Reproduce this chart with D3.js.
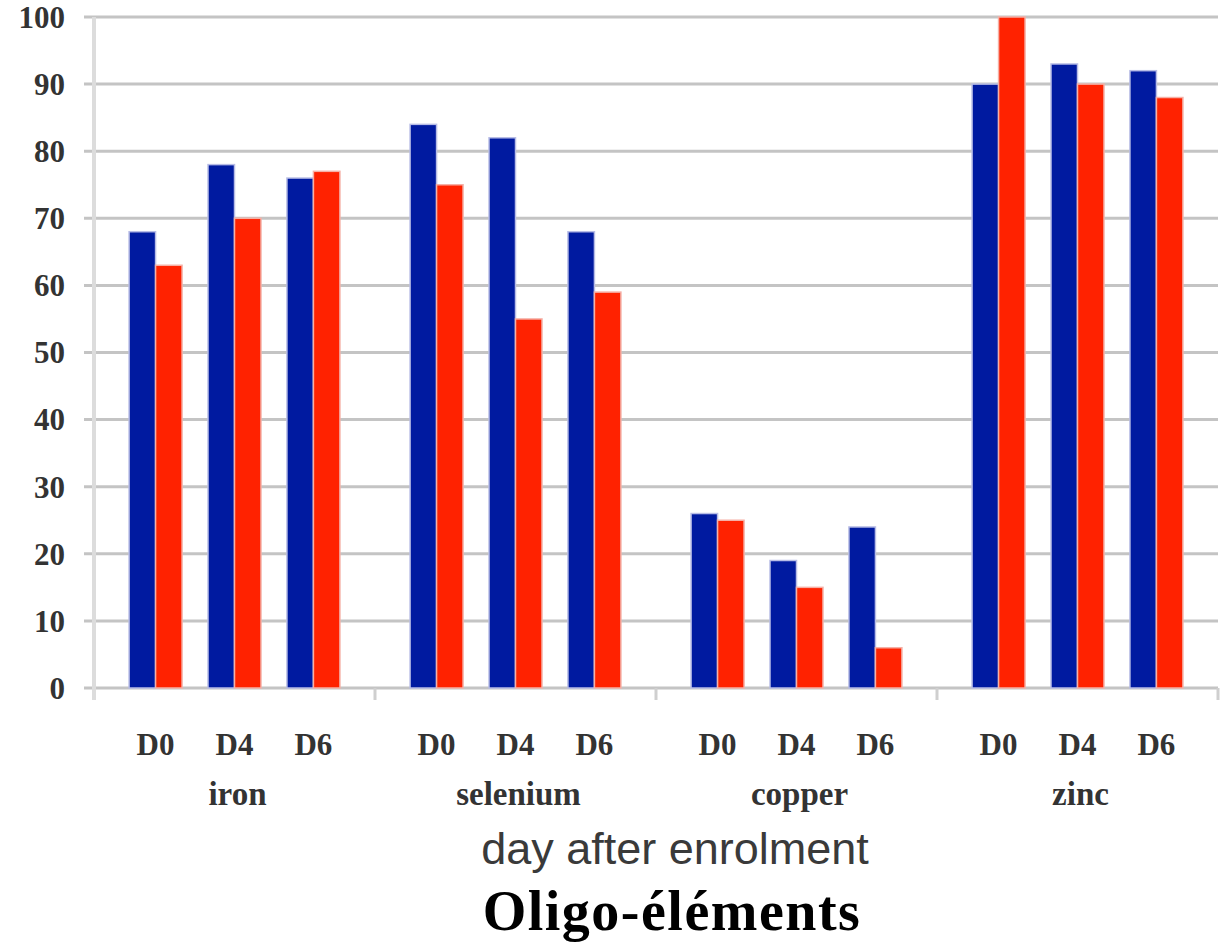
<!DOCTYPE html>
<html>
<head>
<meta charset="utf-8">
<script src="https://cdn.jsdelivr.net/npm/d3@7"></script>
<style>
html,body{margin:0;padding:0;background:#fff;}
svg{display:block;}
</style>
</head>
<body>
<svg id="chart" width="1230" height="952"></svg>
<script>
const groups = ["iron", "selenium", "copper", "zinc"];
const days = ["D0", "D4", "D6"];
const seriesNames = ["blue", "red"];
const blueValues = [68, 78, 76, 84, 82, 68, 26, 19, 24, 90, 93, 92];
const redValues = [63, 70, 77, 75, 55, 59, 25, 15, 6, 100, 90, 88];
const yTicks = [0, 10, 20, 30, 40, 50, 60, 70, 80, 90, 100];
const xTitle = "day after enrolment";
const chartTitle = "Oligo-éléments";

const colors = { blue: "#001aa0", red: "#ff2200" };
const strokeColors = { blue: "#b8bde6", red: "#f5b0a6" };

const svg = d3.select("#chart");
const mLeft = 94, mRight = 1218, mTop = 17, mBottom = 688;

const y = d3.scaleLinear().domain([0, 100]).range([mBottom, mTop]);
const xGroup = d3.scaleBand().domain(groups).range([mLeft, mRight]).padding(0);
const xDay = d3.scaleBand().domain(days).range([0, xGroup.bandwidth()]).paddingOuter(0.28).paddingInner(0);
const xSeries = d3.scaleBand().domain(seriesNames).range([0, xDay.bandwidth()]).paddingOuter(0.49).paddingInner(0);

// gridlines
svg.append("g").selectAll("line").data(yTicks).join("line")
  .attr("x1", mLeft - 10).attr("x2", mRight)
  .attr("y1", d => y(d)).attr("y2", d => y(d))
  .attr("stroke", "#c4c4c4").attr("stroke-width", 3);

// y axis line
svg.append("line").attr("x1", mLeft).attr("x2", mLeft)
  .attr("y1", mTop).attr("y2", mBottom + 12)
  .attr("stroke", "#dcdcdc").attr("stroke-width", 4);

// group separator ticks
svg.append("g").selectAll("line").data(groups).join("line")
  .attr("x1", g => xGroup(g) + xGroup.bandwidth())
  .attr("x2", g => xGroup(g) + xGroup.bandwidth())
  .attr("y1", mBottom).attr("y2", mBottom + 12)
  .attr("stroke", "#cfcfcf").attr("stroke-width", 3);

// y tick labels
svg.append("g").selectAll("text").data(yTicks).join("text")
  .attr("x", 65).attr("y", d => y(d)).attr("dy", "0.35em")
  .attr("text-anchor", "end")
  .attr("font-family", "Liberation Serif, Times New Roman, serif")
  .attr("font-weight", "bold").attr("font-size", 31).attr("fill", "#333")
  .text(d => d);

// bars
const rows = [];
groups.forEach((g, gi) => days.forEach((dd, di) => {
  const idx = gi * 3 + di;
  rows.push({ g, d: dd, s: "blue", v: blueValues[idx] });
  rows.push({ g, d: dd, s: "red", v: redValues[idx] });
}));
svg.append("g").selectAll("rect").data(rows).join("rect")
  .attr("x", r => xGroup(r.g) + xDay(r.d) + xSeries(r.s))
  .attr("width", xSeries.bandwidth())
  .attr("y", r => y(r.v))
  .attr("height", r => y(0) - y(r.v))
  .attr("fill", r => colors[r.s])
  .attr("stroke", r => strokeColors[r.s]).attr("stroke-width", 1.5);

// day labels
const dayLabels = [];
groups.forEach(g => days.forEach(dd => dayLabels.push({ g, d: dd })));
svg.append("g").selectAll("text").data(dayLabels).join("text")
  .attr("x", r => xGroup(r.g) + xDay(r.d) + xDay.bandwidth() / 2)
  .attr("y", 755).attr("text-anchor", "middle")
  .attr("font-family", "Liberation Serif, Times New Roman, serif")
  .attr("font-weight", "bold").attr("font-size", 31).attr("fill", "#333")
  .text(r => r.d);

// group labels
svg.append("g").selectAll("text").data(groups).join("text")
  .attr("x", g => xGroup(g) + xGroup.bandwidth() / 2 + 3)
  .attr("y", 805).attr("text-anchor", "middle")
  .attr("font-family", "Liberation Serif, Times New Roman, serif")
  .attr("font-weight", "bold").attr("font-size", 33).attr("fill", "#333")
  .text(g => g);

// x title
svg.append("text").attr("x", 675).attr("y", 864).attr("text-anchor", "middle")
  .attr("font-family", "Liberation Sans, Arial, sans-serif")
  .attr("font-size", 45).attr("fill", "#3a3a3a")
  .text(xTitle);

// chart title
svg.append("text").attr("x", 672).attr("y", 930).attr("text-anchor", "middle")
  .attr("font-family", "Liberation Serif, Times New Roman, serif")
  .attr("font-weight", "bold").attr("font-size", 56).attr("letter-spacing", 1.5).attr("fill", "#000")
  .text(chartTitle);
</script>
</body>
</html>
